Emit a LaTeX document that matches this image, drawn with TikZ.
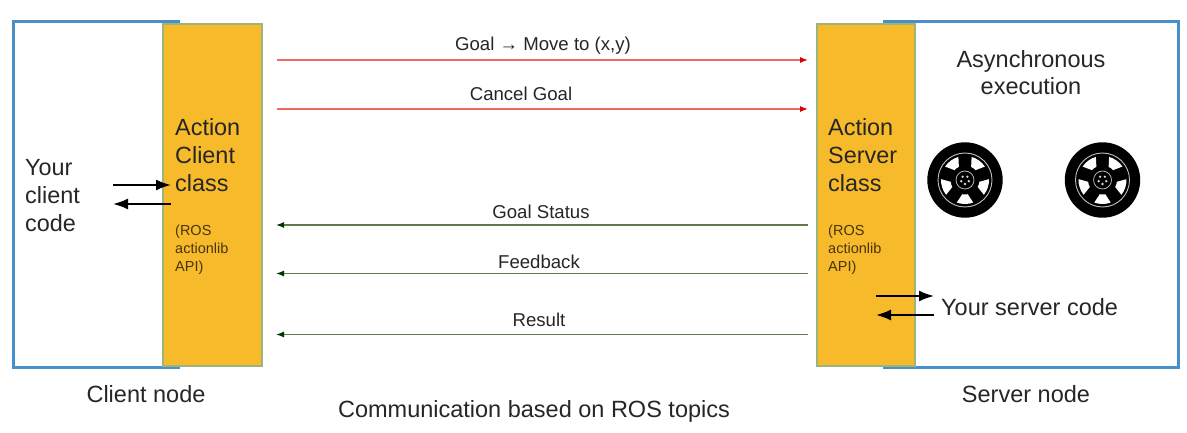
\documentclass[tikz,border=0pt]{standalone}
\usepackage{fontspec}
\setmainfont{Liberation Sans}
\usepackage{tikz}
\usetikzlibrary{arrows.meta, positioning, calc}
\definecolor{nodeblue}{HTML}{4A90C8}
\definecolor{classfill}{HTML}{F6BA2A}
\definecolor{classedge}{HTML}{9DB47C}
\definecolor{goalred}{HTML}{EE6A62}
\definecolor{statusgreen}{HTML}{5F7A4C}
\definecolor{apibrown}{HTML}{4A3410}
\tikzset{
  nodeframe/.style={draw=nodeblue, line width=3pt},
  classbox/.style={fill=classfill, draw=classedge, line width=1.3pt},
  classtext/.style={anchor=north west, align=left, inner sep=0pt, font=\fontsize{23.4}{28}\selectfont, text=black!85},
  apitext/.style={anchor=north west, align=left, inner sep=0pt, font=\fontsize{14.5}{18}\selectfont, text=apibrown},
  topiclabel/.style={font=\fontsize{18.6}{22}\selectfont, text=black!85, inner sep=0pt},
  biglabel/.style={font=\fontsize{23.5}{27}\selectfont, text=black!85, inner sep=0pt},
  goalarrow/.style={draw=goalred, line width=1.2pt, -{Latex[length=8pt,width=6pt,color=red!85!black]}},
  statusarrow/.style={draw=statusgreen, line width=1.2pt, -{Latex[length=8pt,width=6pt,color=black!60!green!50!black]}},
  codearrow/.style={draw=black, line width=2pt, -{Latex[length=15pt,width=11pt]}},
  wheel/.pic={
    \fill[black] (0,0) circle (37.7);
    \draw[white!75!black, line width=0.9pt] (0,0) circle (27);
    % windows between the spokes
    \foreach \ang in {18,90,162,234,306} {
      \fill[white] (\ang-11:14.5) arc[start angle=\ang-11, end angle=\ang+11, radius=14.5]
        -- (\ang+20:24) arc[start angle=\ang+20, end angle=\ang-20, radius=24] -- cycle;
    }
    \draw[white!70!black, line width=0.8pt] (0,0) circle (9);
    \foreach \ang in {18,90,162,234,306} {
      \fill[white!85!black] (\ang:4) circle (1.3);
    }
  }
}

\begin{document}
\begin{tikzpicture}[x=1pt, y=-1pt]
    \useasboundingbox (0,0) rectangle (1187,433);
    \fill[white] (0,0) rectangle (1187,433);

    % Client and server frames
    \draw[nodeframe] (180,22) -- (13,22) -- (13,367) -- (180,367);
    \draw[nodeframe] (883,22) -- (1178,22) -- (1178,367) -- (883,367);

    % Action classes
    \node[classbox, minimum width=99pt, minimum height=342pt, inner sep=0pt] (clientclass) at (212.5,195) {};
    \node[classbox, minimum width=98pt, minimum height=342pt, inner sep=0pt] (serverclass) at (866,195) {};

    % Class labels
    \node[classtext] (clientname) at (175,118.5) {Action\\Client\\class};
    \node[apitext] (clientapi) at (175,225) {(ROS\\actionlib\\API)};
    \node[classtext] (servername) at (828,118.5) {Action\\Server\\class};
    \node[apitext] (serverapi) at (828,225) {(ROS\\actionlib\\API)};

    % Code on both sides
    \node[classtext] (clientcode) at (25,159.5) {Your\\client\\code};
    \node[biglabel, align=center] (asynctext) at (1031,73) {Asynchronous\\execution};
    \node[biglabel, anchor=west] (servercode) at (941,307) {Your server code};

    % Wheels
    \pic (wheelA) at (965,180) {wheel};
    \pic (wheelB) at (1102.5,180) {wheel};

    % Code arrows
    \coordinate (clientcodeA) at (113,185);
    \coordinate (clientapiA) at (171,185);
    \coordinate (clientcodeB) at (113,204);
    \coordinate (clientapiB) at (171,204);
    \coordinate (servercodeA) at (934,296);
    \coordinate (serverapiA) at (876,296);
    \coordinate (servercodeB) at (934,315);
    \coordinate (serverapiB) at (876,315);
    \draw[codearrow] (clientcodeA) -- (clientapiA);
    \draw[codearrow] (clientapiB) -- (clientcodeB);
    \draw[codearrow] (serverapiA) -- (servercodeA);
    \draw[codearrow] (servercodeB) -- (serverapiB);

    % Topic arrows
    \foreach \nm/\yy in {goal/60, cancel/109} {
      \coordinate (\nm C) at (277,\yy);
      \coordinate (\nm S) at (808,\yy);
      \draw[goalarrow] (\nm C) -- (\nm S);
    }
    \foreach \nm/\yy in {status/225, feedback/273.5, result/334.5} {
      \coordinate (\nm C) at (276,\yy);
      \coordinate (\nm S) at (808,\yy);
      \draw[statusarrow] (\nm S) -- (\nm C);
    }

    % Topic labels
    \node[topiclabel] (goallabel) at (543,46) {Goal → Move to (x,y)};
    \node[topiclabel] (cancellabel) at (521,94) {Cancel Goal};
    \node[topiclabel] (statuslabel) at (541,212) {Goal Status};
    \node[topiclabel] (feedbacklabel) at (539,262) {Feedback};
    \node[topiclabel] (resultlabel) at (539,320) {Result};

    % Captions below
    \node[biglabel] (clientcaption) at (146,394) {Client node};
    \node[biglabel] (servercaption) at (1026,394) {Server node};
    \node[biglabel] (commcaption) at (534,411) {Communication based on ROS topics};
\end{tikzpicture}
\end{document}
